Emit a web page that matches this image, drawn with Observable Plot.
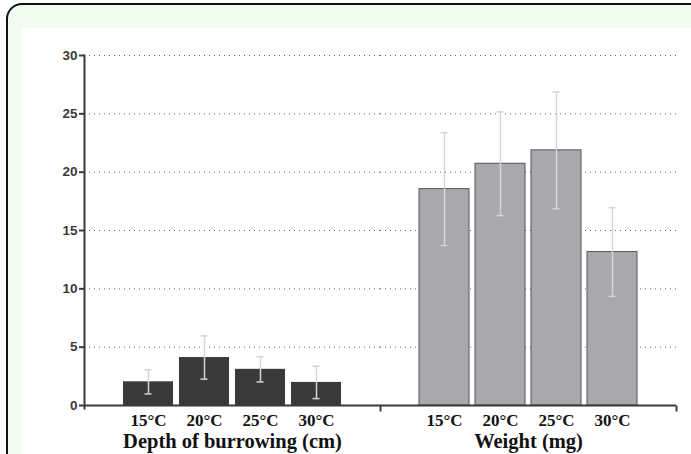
<!DOCTYPE html>
<html>
<head>
<meta charset="utf-8">
<script src="https://cdn.jsdelivr.net/npm/d3@7"></script>
<script src="https://cdn.jsdelivr.net/npm/@observablehq/plot@0.6"></script>
<style>
  html, body { margin: 0; padding: 0; width: 691px; height: 454px; overflow: hidden; background: #ffffff; }
  #outer { position: absolute; left: 6px; top: 3px; width: 720px; height: 480px; border: 2px solid #111; border-top-left-radius: 16px; background: #effcef; box-sizing: border-box; }
  #inner { position: absolute; left: 22px; top: 28px; width: 700px; height: 460px; background: #ffffff; }
  #chart { position: absolute; left: 0; top: 0; }
  #chart svg { background: transparent; }
  #chart svg g[aria-label="y-axis tick label"] { font-size: 13.5px; font-family: "Liberation Sans", Arial, sans-serif; font-weight: bold; }
  #chart svg g[aria-label="x-axis tick label"] { font-size: 17px; font-family: "Liberation Serif", serif; font-weight: bold; }
  #chart svg g[aria-label="fx-axis tick label"] { font-size: 20.5px; font-family: "Liberation Serif", serif; font-weight: bold; }
</style>
</head>
<body>
<div id="outer"></div>
<div id="inner"></div>
<div id="chart"></div>
<script>
const groups = ["Depth of burrowing (cm)", "Weight (mg)"];
const temps = ["15°C", "20°C", "25°C", "30°C"];
const depthMean = [2.03, 4.11, 3.1, 1.98];
const depthErr = [1.04, 1.85, 1.08, 1.39];
const weightMean = [18.55, 20.72, 21.87, 13.15];
const weightErr = [4.84, 4.45, 5.0, 3.8];
const yTicks = [0, 5, 10, 15, 20, 25, 30];

const data = [];
temps.forEach((t, i) => data.push({group: groups[0], temp: t, mean: depthMean[i], err: depthErr[i]}));
temps.forEach((t, i) => data.push({group: groups[1], temp: t, mean: weightMean[i], err: weightErr[i]}));

const downTick = {draw(ctx) { ctx.moveTo(0, 0); ctx.lineTo(0, 6); }};

const chart = Plot.plot({
  width: 691,
  height: 454,
  marginLeft: 83,
  marginRight: 15,
  marginTop: 55,
  marginBottom: 49,
  style: {background: "transparent"},
  fx: {domain: groups, padding: 0, label: null},
  x: {domain: temps, paddingInner: 0.1, paddingOuter: 0.68, label: null},
  y: {domain: [0, 30], label: null},
  marks: [
    Plot.gridY(yTicks.filter(d => d > 0), {stroke: "#666", strokeOpacity: 1, strokeWidth: 1, strokeDasharray: "1,4"}),
    Plot.barY(data.filter(d => d.group === groups[0]), {fx: "group", x: "temp", y: "mean", fill: "#3a3a3c"}),
    Plot.barY(data.filter(d => d.group === groups[1]), {fx: "group", x: "temp", y: "mean", fill: "#a7a9ac", stroke: "#555", strokeWidth: 1}),
    Plot.ruleX(data, {fx: "group", x: "temp", y1: d => d.mean - d.err, y2: d => d.mean + d.err, stroke: "#d4d4d4", strokeWidth: 1.5}),
    Plot.tickY(data, {fx: "group", x: "temp", y: d => d.mean - d.err, stroke: "#d4d4d4", strokeWidth: 1.5, insetLeft: 21.5, insetRight: 21.5}),
    Plot.tickY(data, {fx: "group", x: "temp", y: d => d.mean + d.err, stroke: "#d4d4d4", strokeWidth: 1.5, insetLeft: 21.5, insetRight: 21.5}),
    Plot.ruleY([0], {stroke: "#3a3a3a", strokeWidth: 2}),
    Plot.frame({anchor: "left", facetAnchor: "left", stroke: "#3a3a3a", strokeWidth: 2, insetBottom: -3}),
    Plot.dot([0], {frameAnchor: "bottom-right", symbol: downTick, stroke: "#3a3a3a", strokeWidth: 2, r: 3}),
    Plot.axisY({ticks: yTicks, tickSize: 5, tickPadding: 2, stroke: "#3a3a3a", strokeWidth: 2, fill: "#3a3a3a", fontSize: 13.5, label: null}),
    Plot.axisX({anchor: "bottom", tickSize: 0, tickPadding: 8, fontSize: 17, fill: "#111", label: null}),
    Plot.axisFx({anchor: "bottom", tickSize: 0, tickPadding: 28, fontSize: 20.5, fill: "#111", label: null})
  ]
});
document.getElementById("chart").appendChild(chart);
</script>
</body>
</html>
